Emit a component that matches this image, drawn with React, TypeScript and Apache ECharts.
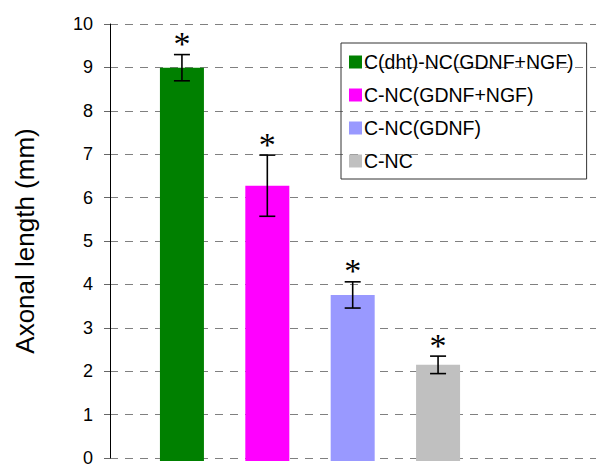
import React, { useEffect, useRef } from "react";
import * as echarts from "echarts";

const seriesNames = ["C(dht)-NC(GDNF+NGF)", "C-NC(GDNF+NGF)", "C-NC(GDNF)", "C-NC"];
const means = [9.0, 6.3, 3.8, 2.2];
const errors = [0.3, 0.7, 0.3, 0.2];
const colors = ["#008000", "#ff00ff", "#9999ff", "#c0c0c0"];
const yTicks = [0, 1, 2, 3, 4, 5, 6, 7, 8, 9, 10];
const marks = ["*", "*", "*", "*"];

export default function App() {
  const ref = useRef<HTMLDivElement>(null);
  useEffect(() => {
    if (!ref.current) return;
    const chart = echarts.init(ref.current, null, { renderer: "svg" });
    const font = "'Liberation Sans', Arial, sans-serif";
    const barSeries = seriesNames.map((name, i) => ({
      name,
      type: "bar",
      xAxisIndex: 1,
      yAxisIndex: 1,
      stack: "all",
      barWidth: 44,
      itemStyle: { color: colors[i] },
      data: means.map((v, j) => (j === i ? v : "-")),
    }));
    const option: any = {
      animation: false,
      backgroundColor: "#ffffff",
      textStyle: { fontFamily: font },
      grid: [
        { left: 110, right: 4, top: 24, bottom: 6 },
        { left: 139.25, right: 119.25, top: 24, bottom: 6 },
      ],
      legend: {
        orient: "vertical",
        left: 341,
        top: 43,
        padding: [9, 13, 8, 8],
        itemGap: 13,
        itemWidth: 13,
        itemHeight: 13,
        borderColor: "#333333",
        borderWidth: 1,
        icon: "rect",
        textStyle: { fontSize: 19.5, color: "#000", fontFamily: font, padding: [0, 0, 0, -3] },
        data: seriesNames,
      },
      xAxis: [
        { type: "category", gridIndex: 0, data: [""], show: false },
        { type: "category", gridIndex: 1, data: seriesNames, show: false },
      ],
      yAxis: [
        {
          type: "value",
          gridIndex: 0,
          min: yTicks[0],
          max: yTicks[yTicks.length - 1],
          interval: 1,
          name: "Axonal length (mm)",
          nameLocation: "middle",
          nameGap: 72,
          nameTextStyle: { fontSize: 26, color: "#000", fontFamily: font },
          axisLine: { show: true, lineStyle: { color: "#000", width: 1 } },
          axisTick: { show: true, length: 6, lineStyle: { color: "#666" } },
          axisLabel: { fontSize: 18, color: "#000", margin: 17, fontFamily: font },
          splitLine: { show: true, lineStyle: { color: "#808080", type: [8, 7], width: 1.2 } },
        },
        {
          type: "value",
          gridIndex: 1,
          min: yTicks[0],
          max: yTicks[yTicks.length - 1],
          interval: 1,
          show: false,
          splitLine: { show: false },
        },
      ],
      series: [
        ...barSeries,
        {
          type: "custom",
          xAxisIndex: 1,
          yAxisIndex: 1,
          silent: true,
          z: 10,
          data: means.map((m, i) => [i, m - errors[i], m + errors[i], marks[i]]),
          renderItem: (params: any, api: any) => {
            const x = api.value(0);
            const lo = api.coord([x, api.value(1)]);
            const hi = api.coord([x, api.value(2)]);
            const half = 8;
            const style = { stroke: "#000", lineWidth: 1.6 };
            return {
              type: "group",
              children: [
                { type: "line", shape: { x1: lo[0], y1: lo[1], x2: hi[0], y2: hi[1] }, style },
                { type: "line", shape: { x1: lo[0] - half, y1: lo[1], x2: lo[0] + half, y2: lo[1] }, style },
                { type: "line", shape: { x1: hi[0] - half, y1: hi[1], x2: hi[0] + half, y2: hi[1] }, style },
                {
                  type: "text",
                  x: hi[0],
                  y: hi[1] + 6,
                  style: {
                    text: marks[params.dataIndex],
                    fontSize: 34,
                    fontFamily: "'Liberation Serif', serif",
                    fill: "#000",
                    align: "center",
                    verticalAlign: "bottom",
                  },
                },
              ],
            };
          },
        },
      ],
    };
    chart.setOption(option);
    return () => chart.dispose();
  }, []);
  return (
    <div style={{ position: "fixed", left: 0, top: 0, width: 600, height: 467, background: "#fff" }}>
      <div ref={ref} style={{ width: 600, height: 467 }} />
    </div>
  );
}
